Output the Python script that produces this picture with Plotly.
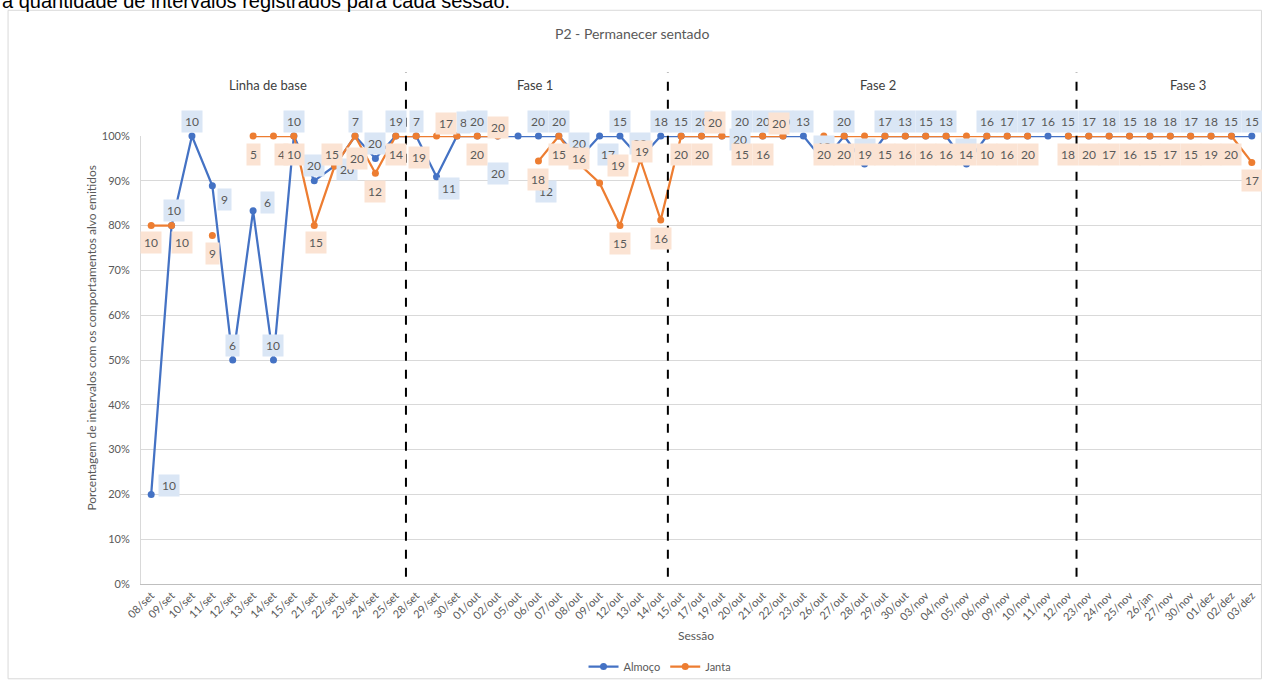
import plotly.graph_objects as go

sessoes = ["08/set", "09/set", "10/set", "11/set", "12/set", "13/set", "14/set", "15/set",
           "21/set", "22/set", "23/set", "24/set", "25/set", "28/set", "29/set", "30/set",
           "01/out", "02/out", "05/out", "06/out", "07/out", "08/out", "09/out", "12/out",
           "13/out", "14/out", "15/out", "17/out", "19/out", "20/out", "21/out", "22/out",
           "23/out", "26/out", "27/out", "28/out", "29/out", "30/out", "03/nov", "04/nov",
           "05/nov", "06/nov", "09/nov", "10/nov", "11/nov", "12/nov", "23/nov", "24/nov",
           "25/nov", "26/jan", "27/nov", "30/nov", "01/dez", "02/dez", "03/dez"]

almoco_pct = [20, 80, 100, 88.9, 50, 83.3, 50, 100,
              90, 93.3, 100, 95, 100, 100, 90.9, 100,
              100, 100, 100, 100, 100, 95, 100, 100,
              95, 100, 100, 100, 100, 100, 100, 100,
              100, 94.4, 100, 93.75, 100, 100, 100, 100,
              93.75, 100, 100, 100, 100, 100, 100, 100,
              100, 100, 100, 100, 100, 100, 100]

janta_pct = [80, 80, None, 77.8, None, 100, 100, 100,
             80, 93.3, 100, 91.7, 100, 100, 100, 100,
             100, 100, None, 94.4, 100, 93.75, 89.5, 80,
             94.7, 81.25, 100, 100, 100, 100, 100, 100,
             None, 100, 100, 100, 100, 100, 100, 100,
             100, 100, 100, 100, None, 100, 100, 100,
             100, 100, 100, 100, 100, 100, 94.1]

almoco_n = ["10", "10", "10", "9", "6", "6", "10", "10",
            "20", "20", "7", "20", "19", "7", "11", "8",
            "20", "20", "12", "20", "20", "20", "17", "15",
            "20", "18", "15", "20", "20", "20", "20", "20",
            "13", "18", "20", "16", "17", "13", "15", "13",
            "16", "16", "17", "17", "16", "15", "17", "18",
            "15", "18", "18", "17", "18", "15", "15"]

janta_n = ["10", "10", "", "9", "", "5", "4", "10",
           "15", "15", "20", "12", "14", "19", "17", "",
           "20", "20", "", "18", "15", "16", "19", "15",
           "19", "16", "20", "20", "20", "15", "16", "20",
           "", "20", "20", "19", "15", "16", "16", "16",
           "14", "10", "16", "20", "", "18", "20", "17",
           "16", "15", "17", "15", "19", "20", "17"]

# label offsets (dx, dy in pixels, screen coordinates: +dy = down)
A_UP = (0, -15)
B_DN = (0, 18)
almoco_off = [(18, -9), (2, -15), A_UP, (12, 14), A_UP, (14, -8), A_UP, A_UP,
              A_UP, (12, 3), A_UP, A_UP, A_UP, A_UP, (12, 12), (7, -14),
              A_UP, (0, 37), (28, 55), A_UP, A_UP, A_UP, (8, 18), A_UP,
              A_UP, A_UP, A_UP, A_UP, (18, 3), A_UP, A_UP, A_UP,
              A_UP, A_UP, A_UP, A_UP, A_UP, A_UP, A_UP, A_UP,
              A_UP, A_UP, A_UP, A_UP, A_UP, A_UP, A_UP, A_UP,
              A_UP, A_UP, A_UP, A_UP, A_UP, A_UP, A_UP]
janta_off = [(0, 17), (10, 17), B_DN, B_DN, B_DN, B_DN, (8, 18), B_DN,
             (2, 17), (-3, -12), (2, 22), B_DN, B_DN, (3, 21), (9, -13), B_DN,
             B_DN, (0, -9), B_DN, B_DN, (0, 18), (0, -6), (18, -18), B_DN,
             (2, -8), B_DN, B_DN, B_DN, (-7, -14), B_DN, B_DN, (-4, -13),
             B_DN, B_DN, B_DN, B_DN, B_DN, B_DN, B_DN, B_DN,
             B_DN, B_DN, B_DN, B_DN, B_DN, B_DN, B_DN, B_DN,
             B_DN, B_DN, B_DN, B_DN, B_DN, B_DN, B_DN]

fases = ["Linha de base", "Fase 1", "Fase 2", "Fase 3"]
fase_x = [0.1133, 0.3515, 0.6575, 0.934]
divisorias = [12.5, 25.35, 45.4]

AZUL = "#4472C4"
LARANJA = "#ED7D31"
FONT = "Lato"
TXT = "#595959"

fig = go.Figure()
fig.add_trace(go.Scatter(x=sessoes, y=almoco_pct, name="Almoço", mode="lines+markers",
                         line=dict(color=AZUL, width=2.25), marker=dict(size=7, color=AZUL),
                         cliponaxis=False))
fig.add_trace(go.Scatter(x=sessoes, y=janta_pct, name="Janta", mode="lines+markers",
                         line=dict(color=LARANJA, width=2.25), marker=dict(size=7, color=LARANJA),
                         cliponaxis=False))

ann = []
for serie_y, serie_n, offs, bg in [(almoco_pct, almoco_n, almoco_off, "#DAE6F5"),
                                   (janta_pct, janta_n, janta_off, "#FBE3D3")]:
    for i, (yv, lab) in enumerate(zip(serie_y, serie_n)):
        if yv is None or not lab:
            continue
        dx, dy = offs[i]
        ann.append(dict(x=sessoes[i], y=yv, xref="x", yref="y", text=lab, showarrow=False,
                        xanchor="center", yanchor="middle",
                        xshift=dx, yshift=-dy, bgcolor=bg, borderpad=3,
                        font=dict(family=FONT, size=12, color=TXT)))

for nome, fx in zip(fases, fase_x):
    ann.append(dict(x=fx, y=1.1136, xref="paper", yref="paper", text=nome, showarrow=False,
                    xanchor="center", yanchor="middle",
                    font=dict(family=FONT, size=13, color="#404040")))

ann.append(dict(x=0.438, y=1.229, xref="paper", yref="paper", text="P2 - Permanecer sentado",
                xanchor="center", yanchor="middle",
                showarrow=False, font=dict(family=FONT, size=14, color=TXT)))
ann.append(dict(x=-0.0437, y=0.55, xref="paper", yref="paper", textangle=-90,
                xanchor="center", yanchor="middle",
                text="Porcentagem de intervalos com os comportamentos alvo emitidos",
                showarrow=False, font=dict(family=FONT, size=12, color=TXT)))
ann.append(dict(x=0.495, y=-0.116, xref="paper", yref="paper", text="Sessão",
                xanchor="center", yanchor="middle",
                showarrow=False, font=dict(family=FONT, size=12, color=TXT)))
ann.append(dict(x=-0.1258, y=1.272, xref="paper", yref="paper", xanchor="left", yanchor="bottom",
                text="a quantidade de intervalos registrados para cada sessão.",
                showarrow=False, font=dict(family="Liberation Sans", size=20, color="#000000")))

shapes = []
for dv in divisorias:
    shapes.append(dict(type="line", xref="x", yref="paper", x0=dv, x1=dv, y0=0.016, y1=1.142,
                       line=dict(color="#000000", width=2, dash="dash")))
shapes.append(dict(type="rect", xref="paper", yref="paper", x0=-0.1186, x1=0.9995,
                   y0=-0.2116, y1=1.2806, line=dict(color="#D9D9D9", width=1)))

fig.update_layout(
    width=1262, height=681,
    margin=dict(l=141, r=0, t=136, b=96),
    paper_bgcolor="white", plot_bgcolor="white",
    font=dict(family=FONT, color=TXT),
    showlegend=True,
    legend=dict(orientation="h", x=0.463, y=-0.185, xanchor="center", yanchor="middle",
                bgcolor="rgba(0,0,0,0)",
                font=dict(family=FONT, size=11, color=TXT)),
    annotations=ann, shapes=shapes,
)
fig.update_xaxes(type="category", categoryorder="array", categoryarray=sessoes,
                 range=[-0.5, 54.5], tickangle=-45, tickfont=dict(family=FONT, size=11, color=TXT),
                 showline=True, linecolor="#BFBFBF", showgrid=False, ticks="")
fig.update_yaxes(range=[0, 100], dtick=10, ticksuffix="%", showgrid=True, gridcolor="#D9D9D9",
                 tickfont=dict(family=FONT, size=11, color=TXT), showline=True, linecolor="#D9D9D9",
                 zeroline=False, ticks="", ticklabelstandoff=8)

fig.write_html("out.html", config={"displayModeBar": False},
               post_script="document.body.style.margin='0px';")
